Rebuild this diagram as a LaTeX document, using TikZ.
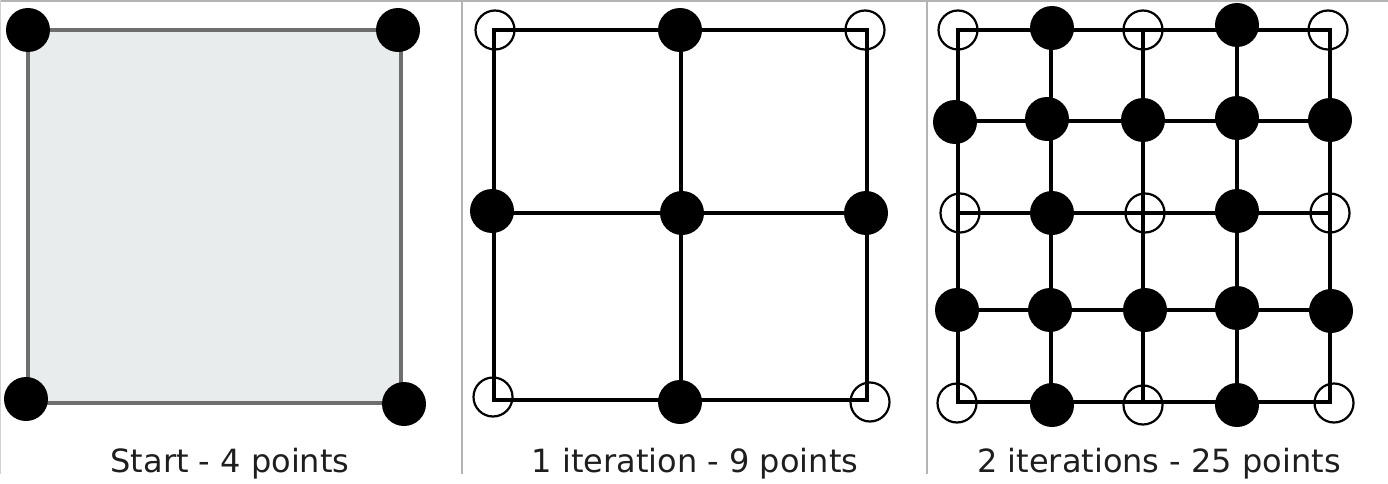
\documentclass[tikz,border=0pt]{standalone}
\usepackage{fontspec}
\setmainfont{DejaVu Sans}
\definecolor{sqfill}{HTML}{E8ECED}
\definecolor{sqedge}{HTML}{6E6E6E}
\definecolor{sepgray}{HTML}{B4B4B4}
\definecolor{txt}{HTML}{1E1E1E}
\tikzset{
  fdot/.style={circle,fill=black,draw=none,minimum size=44pt,inner sep=0pt},
  odot/.style={circle,draw=black,line width=2.2pt,fill=none,minimum size=39pt,inner sep=0pt},
  gridline/.style={line width=3.4pt,black},
  caption/.style={font=\fontsize{32}{38}\selectfont,text=txt,anchor=base,inner sep=0pt},
  sepline/.style={line width=2.5pt,sepgray}
}
\begin{document}
\begin{tikzpicture}[x=1pt,y=-1pt]
\useasboundingbox (0,0) rectangle (1388,484);
% frame and separators
\draw[sepline] (0,1) -- (1388,1);
\draw[line width=1.5pt,sepgray!60] (0.5,0) -- (0.5,474);
\draw[sepline] (462,0) -- (462,474);
\draw[sepline] (927,0) -- (927,474);

% ---------- Panel 1 ----------
\coordinate (p1a) at (28,30);
\coordinate (p1b) at (401,30);
\coordinate (p1c) at (401,403);
\coordinate (p1d) at (28,403);
\draw[fill=sqfill,draw=sqedge,line width=3.2pt] (p1a) -- (p1b) -- (p1c) -- (p1d) -- cycle;
\node[fdot] (s1) at (28,30) {};
\node[fdot] (s2) at (398,30) {};
\node[fdot] (s3) at (26,399) {};
\node[fdot] (s4) at (404,404) {};
\node[caption] (t1) at (230,472) {Start - 4 points};

% ---------- Panel 2 ----------
\foreach \i/\x in {1/494,2/681,3/867}{
  \foreach \j/\y in {1/30,2/213,3/400}{
    \coordinate (q\i\j) at (\x,\y);
  }
}
\draw[gridline] (q11) -- (q31) -- (q33) -- (q13) -- cycle;
\draw[gridline] (q21) -- (q23);
\draw[gridline] (q12) -- (q32);
\node[odot] (m11) at (495,30) {};
\node[fdot] (m21) at (680,30) {};
\node[odot] (m31) at (865,30) {};
\node[fdot] (m12) at (492,211) {};
\node[fdot] (m22) at (682,213) {};
\node[fdot] (m32) at (866,213) {};
\node[odot] (m13) at (493,397) {};
\node[fdot] (m23) at (680,402) {};
\node[odot] (m33) at (870,402) {};
\node[caption] (t2) at (695,472) {1 iteration - 9 points};

% ---------- Panel 3 ----------
\foreach \i/\x in {1/958,2/1051,3/1143,4/1237,5/1330}{
  \foreach \j/\y in {1/30,2/121,3/213,4/310,5/402}{
    \coordinate (r\i\j) at (\x,\y);
  }
}
\draw[gridline] (r11) -- (r51) -- (r55) -- (r15) -- cycle;
\foreach \i in {2,3,4}{
  \draw[gridline] (r\i1) -- (r\i5);
  \draw[gridline] (r1\i) -- (r5\i);
}
% row 1
\node[odot] (n11) at (958,30) {};
\node[fdot] (n21) at (1052,28) {};
\node[odot] (n31) at (1143,30) {};
\node[fdot] (n41) at (1237,25) {};
\node[odot] (n51) at (1328,30) {};
% row 2
\node[fdot] (n12) at (955,122) {};
\node[fdot] (n22) at (1047,119) {};
\node[fdot] (n32) at (1143,120) {};
\node[fdot] (n42) at (1237,118) {};
\node[fdot] (n52) at (1330,120) {};
% row 3
\node[odot] (n13) at (960,213) {};
\node[fdot] (n23) at (1052,213) {};
\node[odot] (n33) at (1145,213) {};
\node[fdot] (n43) at (1237,211) {};
\node[odot] (n53) at (1330,213) {};
% row 4
\node[fdot] (n14) at (957,310) {};
\node[fdot] (n24) at (1050,310) {};
\node[fdot] (n34) at (1145,310) {};
\node[fdot] (n44) at (1237,308) {};
\node[fdot] (n54) at (1331,311) {};
% row 5
\node[odot] (n15) at (957,403) {};
\node[fdot] (n25) at (1052,405) {};
\node[odot] (n35) at (1143,405) {};
\node[fdot] (n45) at (1237,405) {};
\node[odot] (n55) at (1334,403) {};
\node[caption] (t3) at (1159,472) {2 iterations - 25 points};
\end{tikzpicture}
\end{document}
